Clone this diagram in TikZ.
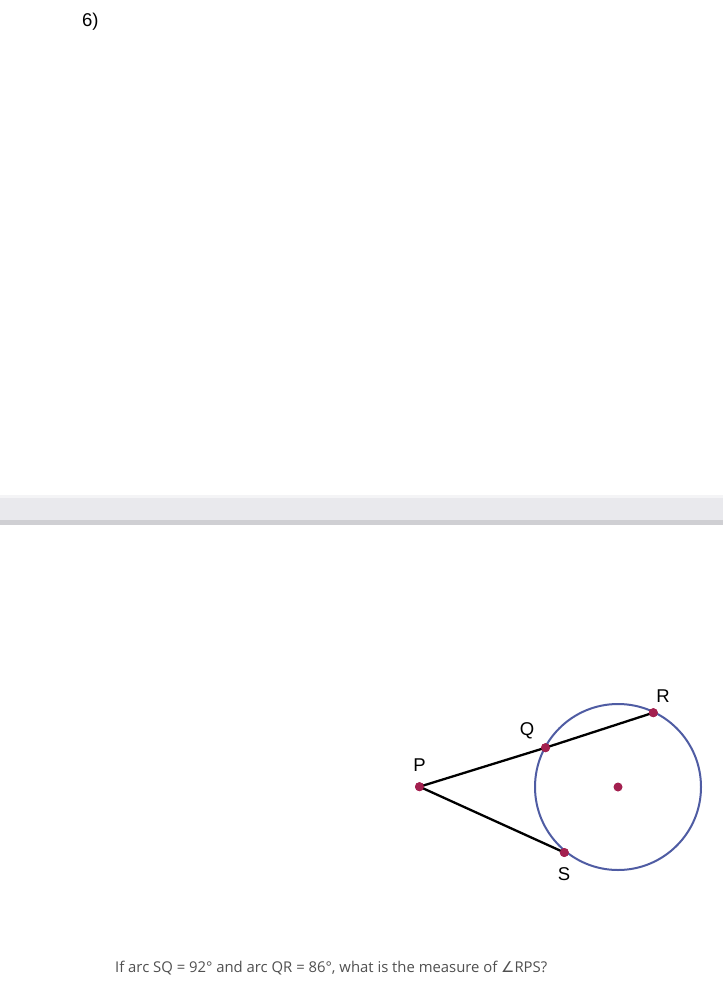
\documentclass[tikz,border=0pt]{standalone}
\usepackage{fontspec}
\setmainfont{Liberation Sans}
\newfontfamily\qfont{Open Sans}
\newfontfamily\symfont{DejaVu Sans}
\definecolor{dotc}{HTML}{A3204F}
\definecolor{circc}{HTML}{4F5CA3}
\definecolor{barc}{HTML}{E9E9ED}
\definecolor{baredge}{HTML}{CFCFD3}
\definecolor{qtext}{HTML}{505050}
\tikzset{
  x=1pt,y=1pt,
  pt/.style={circle,fill=dotc,inner sep=0pt,minimum size=9pt},
  lbl/.style={font=\fontsize{18.5}{18.5}\selectfont,inner sep=0pt},
  seg/.style={line width=2.3pt,black}
}
\begin{document}
\begin{tikzpicture}
\useasboundingbox[fill=white] (0,0) rectangle (723,-1000);
% separator bar
\fill[baredge] (0,-495) rectangle (723,-525);
\fill[barc] (0,-498) rectangle (723,-520);
\fill[white!50!barc] (0,-495) rectangle (723,-498);
% header
\node[lbl,anchor=west] (num) at (82,-22) {6)};
% geometry
\coordinate (O) at (618,-787);
\draw[circc,line width=2pt] (O) circle (83);
\node[pt] (c) at (O) {};
\node[pt] (P) at (419.5,-786.7) {};
\node[pt] (Q) at (545.5,-747.7) {};
\node[pt] (R) at (653.3,-712.7) {};
\node[pt] (S) at (564.3,-852.5) {};
\draw[seg] (P.center) -- (Q.center) -- (R.center);
\draw[seg] (P.center) -- (S.center);
\node[pt] at (P) {};
\node[pt] at (Q) {};
\node[pt] at (R) {};
\node[pt] at (S) {};
\node[lbl] (lP) at (419.5,-765) {P};
\node[lbl] (lQ) at (527,-731) {Q};
\node[lbl] (lR) at (663,-696) {R};
\node[lbl] (lS) at (564,-874) {S};
% question
\node[anchor=west,inner sep=0pt,text=qtext] (qt) at (115,-968) {\resizebox{432pt}{!}{\qfont\fontsize{14}{14}\selectfont If arc SQ = 92° and arc QR = 86°, what is the measure of {\symfont ∠}RPS?}};
\end{tikzpicture}
\end{document}
